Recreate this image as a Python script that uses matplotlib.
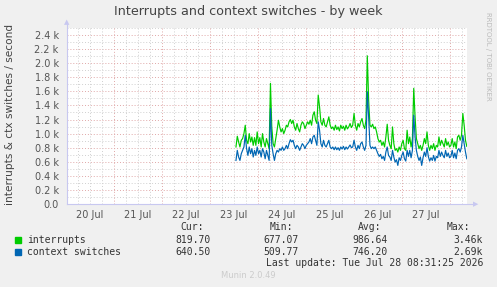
import datetime as dt
import matplotlib
matplotlib.use('Agg')
import matplotlib.pyplot as plt

# samples from 23 Jul 13:00, roughly 40 min apart
start = dt.datetime(2026, 7, 23, 13, 0)
step = dt.timedelta(seconds=2388)

interrupts = [
    810, 962, 881, 810, 905, 929, 1000, 1119, 905, 857,
    1000, 881, 952, 833, 943, 833, 1024, 857, 943, 810,
    1000, 881, 810, 929, 857, 786, 1714, 1095, 857, 810,
    929, 1048, 1190, 1095, 1024, 1071, 1000, 1048, 1119, 1095,
    1167, 1200, 1143, 1190, 1095, 1048, 1143, 1071, 1024, 1119,
    1167, 1143, 1071, 1119, 1167, 1133, 1190, 1119, 1262, 1310,
    1190, 1143, 1548, 1381, 1167, 1119, 1214, 1119, 1095, 1167,
    1238, 1119, 1071, 1095, 1048, 1119, 1057, 1095, 1038, 1119,
    1071, 1105, 1048, 1119, 1067, 1095, 1143, 1086,
    1119, 1286, 1119, 1048, 1143, 1095, 1167, 1214, 1119, 1071,
    1190, 2105, 1476, 1119, 1095, 1133, 1071, 1095, 1024, 929,
    881, 905, 833, 881, 810, 952, 1133, 905, 833, 786,
    1095, 857, 762, 786, 738, 810, 762, 857, 905, 786,
    762, 1048, 857, 952, 810, 929, 1643, 1238, 929, 857,
    786, 833, 762, 833, 929, 857, 1024, 833, 762, 833,
    786, 857, 762, 833, 810, 952, 833, 905, 857, 810,
    929, 833, 881, 810, 833, 929, 810, 881, 786, 952,
    976, 905, 976, 1286, 1119, 905, 819]
ctx_switches = [
    619, 762, 667, 619, 714, 762, 810, 976, 786, 690,
    810, 714, 786, 667, 762, 690, 810, 714, 762, 667,
    786, 738, 643, 762, 690, 619, 1357, 833, 714, 619,
    714, 762, 738, 786, 762, 810, 762, 786, 833, 786,
    857, 914, 881, 905, 833, 786, 833, 810, 762, 810,
    857, 833, 786, 833, 857, 881, 929, 857, 952, 976,
    905, 833, 1167, 1048, 857, 810, 905, 833, 810, 857,
    905, 810, 786, 810, 771, 810, 771, 800, 762, 810,
    781, 819, 771, 810, 781, 810, 838, 800,
    810, 905, 810, 762, 833, 786, 857, 881, 810, 762,
    833, 1595, 1238, 833, 786, 810, 786, 810, 762, 714,
    676, 705, 643, 676, 619, 738, 810, 690, 667, 619,
    762, 667, 595, 629, 548, 657, 619, 690, 738, 643,
    610, 762, 676, 762, 657, 762, 1262, 952, 762, 676,
    619, 667, 548, 657, 738, 676, 800, 676, 610, 657,
    619, 690, 610, 676, 657, 762, 676, 738, 690, 657,
    762, 676, 724, 657, 676, 762, 657, 724, 643, 762,
    786, 738, 810, 976, 857, 738, 643]
times = [start + i * step for i in range(len(interrupts))]

day_labels = ['20 Jul', '21 Jul', '22 Jul', '23 Jul', '24 Jul', '25 Jul', '26 Jul', '27 Jul']
y_ticks = [0, 200, 400, 600, 800, 1000, 1200, 1400, 1600, 1800, 2000, 2200, 2400]
y_labels = ['0.0', '0.2 k', '0.4 k', '0.6 k', '0.8 k', '1.0 k', '1.2 k', '1.4 k',
            '1.6 k', '1.8 k', '2.0 k', '2.2 k', '2.4 k']

legend_rows = [
    ('interrupts', '#00CC00', '819.70', '677.07', '986.64', '3.46k'),
    ('context switches', '#0066B3', '640.50', '509.77', '746.20', '2.69k'),
]

W, H = 497, 287
fig = plt.figure(figsize=(W / 100, H / 100), dpi=100)
fig.patch.set_facecolor('#F0F0F0')

left, right, top, bottom = 67, 467, 28, 204
ax = fig.add_axes([left / W, 1 - bottom / H, (right - left) / W, (bottom - top) / H])
ax.set_facecolor('white')

t_end = dt.datetime(2026, 7, 28, 8, 31)
t_start = t_end - dt.timedelta(seconds=400 * 1800)
ax.set_xlim(t_start, t_end)
ax.set_ylim(0, 2500)

# grid: minor gray, major reddish
for v in range(100, 2600, 100):
    col = '#E0A8A8' if v % 200 == 0 else '#D0D0D0'
    ax.axhline(v, color=col, lw=0.7, ls=(0, (1, 2)), zorder=1)
d = dt.datetime(2026, 7, 20, 6)
while d < t_end:
    col = '#E0A8A8' if d.hour == 0 else '#D0D0D0'
    ax.axvline(d, color=col, lw=0.7, ls=(0, (1, 2)), zorder=1)
    d += dt.timedelta(hours=6)

ax.plot(times, interrupts, color='#00CC00', lw=0.85, zorder=3)
ax.plot(times, ctx_switches, color='#0066B3', lw=0.85, zorder=4)

for s in ax.spines.values():
    s.set_visible(False)

noons = [dt.datetime(2026, 7, 20 + i, 12) for i in range(len(day_labels))]
ax.set_xticks(noons)
ax.set_xticklabels(day_labels)
ax.set_yticks(y_ticks)
ax.set_yticklabels(y_labels)
ax.tick_params(axis='both', length=0, labelsize=7, colors='#555555', pad=4)
ax.tick_params(axis='y', pad=6)

# axis lines with arrows
axis_col = '#C8C8F0'
fig.add_artist(plt.Line2D([left / W, 474 / W], [1 - bottom / H] * 2, color=axis_col, lw=0.8))
fig.add_artist(plt.Line2D([left / W] * 2, [1 - bottom / H, 1 - 22 / H], color=axis_col, lw=0.8))
fig.text(476 / W, 1 - bottom / H, '\u25B6', color=axis_col, fontsize=5, ha='center', va='center')
fig.text(left / W, 1 - 22 / H, '\u25B2', color=axis_col, fontsize=5, ha='center', va='center')

fig.text(248 / W, 1 - 11 / H, 'Interrupts and context switches - by week',
         ha='center', va='center', fontsize=9.2, color='#444444')
fig.text(10 / W, 1 - 114 / H, 'interrupts & ctx switches / second', rotation=90,
         ha='center', va='center', fontsize=7.6, color='#444444')
fig.text(488 / W, 1 - 56 / H, 'RRDTOOL / TOBI OETIKER', rotation=270,
         ha='center', va='center', fontsize=5, color='#BBBBBB')

mono = dict(family='DejaVu Sans Mono', fontsize=7, color='#333333', va='center')
for txt, xr in [('Cur:', 204), ('Min:', 293), ('Avg:', 381), ('Max:', 470)]:
    fig.text(xr / W, 1 - 227 / H, txt, ha='right', **mono)
for row, (name, col, cur, mn, avg, mx) in enumerate(legend_rows):
    y = 1 - (240 + 11.7 * row) / H
    fig.add_artist(plt.Rectangle((15 / W, y - 3 / H), 6 / W, 6 / H, color=col))
    fig.text(27 / W, y, name, ha='left', **mono)
    for val, xr in [(cur, 211), (mn, 299), (avg, 388), (mx, 483)]:
        fig.text(xr / W, y, val, ha='right', **mono)
fig.text(483 / W, 1 - 263.5 / H, 'Last update: Tue Jul 28 08:31:25 2026', ha='right', **mono)
fig.text(248 / W, 1 - 276 / H, 'Munin 2.0.49', ha='center', va='center',
         fontsize=6, color='#CCCCCC')

fig.savefig('out.png', dpi=100, facecolor=fig.get_facecolor())
